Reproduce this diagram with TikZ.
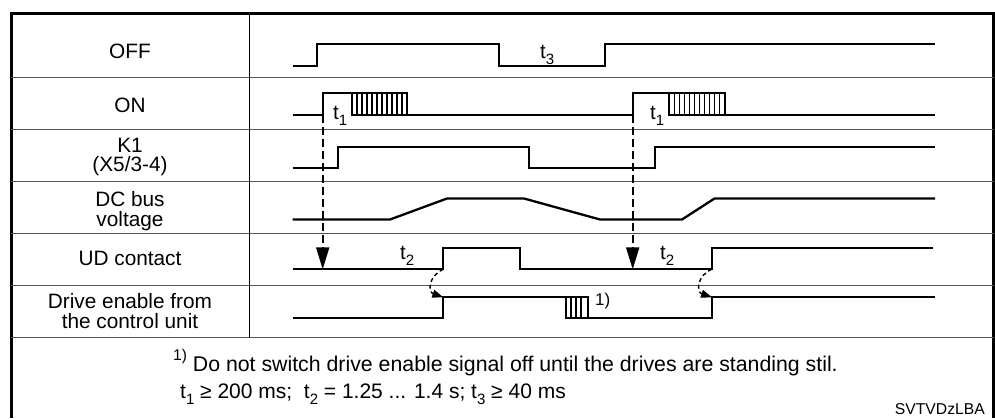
\documentclass[tikz,border=0pt]{standalone}
\usepackage{fontspec}
\setmainfont{Liberation Sans}
\usepackage{tikz}
\usetikzlibrary{arrows.meta,calc}
\definecolor{gridgray}{RGB}{85,85,85}
\newcommand{\tsub}[1]{t\raisebox{-0.3em}{\fontsize{15}{15}\selectfont #1}}

\begin{document}
\begin{tikzpicture}[x=1pt, y=-1pt,
    lbl/.style={font=\fontsize{20.8}{19.5}\selectfont, align=center},
    tlbl/.style={font=\fontsize{20.5}{20}\selectfont, anchor=base west, inner sep=0pt},
    sig/.style={line width=2.3pt, line join=miter},
    hatch/.style={line width=1.1pt},
    grid/.style={gridgray, line width=1.3pt},
    frame/.style={line width=3pt},
    trig/.style={line width=2pt, dash pattern=on 8pt off 4pt, -{Triangle[width=13pt,length=22pt]}},
    hook/.style={line width=1.4pt, dash pattern=on 4pt off 3pt, -{Triangle[width=8pt,length=11pt]}}]
    \useasboundingbox (0,0) rectangle (995,418);

    % Frame and table rows
    \draw[frame] (11,418) -- (11,13) -- (993.5,13) -- (993.5,418);
    \foreach \y in {77.5,129.5,181.7,233.3,285.7,337.5}
        \draw[grid] (11,\y) -- (993.5,\y);
    \draw[line width=1pt] (249,13) -- (249,337.5);

    % Row labels
    \node[lbl] (off) at (130,51) {OFF};
    \node[lbl] (on) at (130,105.8) {ON};
    \node[lbl] (k1) at (130,157) {K1\\(X5/3-4)};
    \node[lbl] (dcbus) at (130,211) {DC bus\\voltage};
    \node[lbl] (ud) at (130,258.3) {UD contact};
    \node[lbl] (enable) at (130,311) {Drive enable from\\the control unit};

    % OFF
    \draw[sig] (292.7,66) -- (317.3,66) -- (317.3,44) -- (499,44) -- (499,66) -- (605,66) -- (605,44) -- (935,44);
    \node[tlbl] (t3) at (540,58.3) {\tsub{3}};

    % ON
    \draw[sig] (292.7,115) -- (322.7,115) -- (322.7,92.7) -- (407,92.7) -- (407,115) -- (632.7,115) -- (632.7,92.7) -- (725,92.7) -- (725,115) -- (935,115);
    \draw[sig] (352,92.7) rectangle (407,115);
    \foreach \x in {357,362,...,402}
        \draw[hatch] (\x,92.7) -- (\x,115);
    \draw[sig] (669.3,92.7) rectangle (725,115);
    \foreach \x in {674.3,679.3,...,720}
        \draw[hatch] (\x,92.7) -- (\x,115);
    \node[tlbl] (t1a) at (333,119.3) {\tsub{1}};
    \node[tlbl] (t1b) at (650,119.3) {\tsub{1}};

    % K1
    \draw[sig] (292.7,168.3) -- (338.3,168.3) -- (338.3,146.7) -- (529,146.7) -- (529,168.3) -- (655,168.3) -- (655,146.7) -- (935,146.7);

    % DC bus voltage
    \draw[sig] (292.7,219.5) -- (390,219.5) -- (447,198.5) -- (524,198.5) -- (600,219.5) -- (682,219.5) -- (714.5,198.5) -- (935,198.5);

    % UD contact
    \draw[sig] (292.7,269.3) -- (443.3,269.3) -- (443.3,248.3) -- (520,248.3) -- (520,269.3) -- (711.7,269.3) -- (711.7,248.3) -- (933,248.3);
    \node[tlbl] (t2a) at (400,259) {\tsub{2}};
    \node[tlbl] (t2b) at (660,259) {\tsub{2}};

    % Drive enable
    \draw[sig] (292.7,317.7) -- (443.3,317.7) -- (443.3,297.3) -- (566,297.3);
    \draw[sig] (566,297.3) rectangle (587.7,317.7);
    \foreach \x in {571,576,581}
        \draw[hatch] (\x,297.3) -- (\x,317.7);
    \draw[sig] (587.7,317.7) -- (712,317.7) -- (712,297.3) -- (935,297.3);
    \node[tlbl, font=\fontsize{17}{17}\selectfont] (fn) at (595,305) {1)};

    % Trigger arrows
    \coordinate (on1) at (322.7,115);
    \coordinate (ud1) at (322.7,269.3);
    \coordinate (on2) at (632.7,115);
    \coordinate (ud2) at (632.7,269.3);
    \draw[trig] (on1) -- (ud1);
    \draw[trig] (on2) -- (ud2);
    \coordinate (udup1) at (443.3,269.3);
    \coordinate (en1) at (443.3,297.3);
    \coordinate (udup2) at (711.7,269.3);
    \coordinate (en2) at (712,297.3);
    \draw[hook] (udup1) .. controls (428,276) and (428,292) .. (en1);
    \draw[hook] (udup2) .. controls (696.4,276) and (696.4,292) .. (en2);

    % Footnote
    \node[tlbl, font=\fontsize{21.3}{21}\selectfont] (note) at (173,371) {\raisebox{11pt}{\fontsize{15.5}{15}\selectfont 1)}\ Do not switch drive enable signal off until the drives are standing stil.};
    \node[tlbl, font=\fontsize{21}{21}\selectfont] (times) at (180,398) {\tsub{1} ≥ 200 ms;\ \ \tsub{2} = 1.25 ... 1.4 s; \tsub{3} ≥ 40 ms};
    \node[font=\fontsize{15.7}{16}\selectfont, anchor=base east, inner sep=0pt] (code) at (985,414) {SVTVDzLBA};
\end{tikzpicture}
\end{document}
